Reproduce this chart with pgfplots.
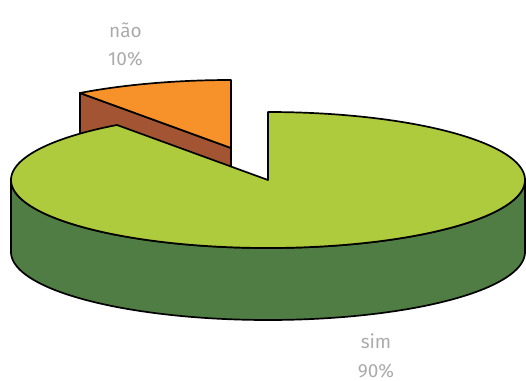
\documentclass[border=0pt]{standalone}
\usepackage{fontspec}
\setmainfont{Fira Sans}
\usepackage{pgfplots}
\pgfplotsset{compat=1.18}
\definecolor{cOrange}{HTML}{F7922A}
\definecolor{cBrown}{HTML}{A35433}
\definecolor{cGreen}{HTML}{ADCB3C}
\definecolor{cDark}{HTML}{4F7D43}
\definecolor{cLbl}{HTML}{ABABAB}
% data (percent)
\def\valSim{90}
\def\valNao{10}
\begin{document}
\begin{tikzpicture}
\pgfmathsetmacro{\aS}{90}
\pgfmathsetmacro{\aE}{90+360*\valNao/100}
\pgfmathsetmacro{\aEnd}{450}
\def\cx{268}\def\cy{180}\def\rx{257}\def\ry{68}\def\dep{72}
\def\ox{-37}\def\oy{-32}
\begin{axis}[
  width=526pt, height=380pt, scale only axis,
  xmin=0, xmax=526, ymin=0, ymax=380, y dir=reverse,
  hide axis, clip=false,
]
\addplot[draw=none, forget plot] coordinates {(0,0) (526,380)};
% front side of big slice
\addplot[draw=black, line width=1.7pt, line join=round, fill=cDark, domain=0:2, samples=401, variable=\t]
  ({\cx+\rx*cos((\t<=1) ? (180+180*\t) : (540-180*\t))},
   {\cy-\ry*sin((\t<=1) ? (180+180*\t) : (540-180*\t)) + ((\t>1) ? \dep : 0)}) -- cycle;
% cut face of exploded slice
\addplot[draw=black, line width=1.7pt, line join=round, fill=cBrown] coordinates {
  ({\cx+\ox},{\cy+\oy})
  ({\cx+\ox+\rx*cos(\aE)},{\cy+\oy-\ry*sin(\aE)})
  ({\cx+\ox+\rx*cos(\aE)},{\cy+\oy-\ry*sin(\aE)+\dep})
  ({\cx+\ox},{\cy+\oy+\dep})
} -- cycle;
% top of exploded slice
\addplot[draw=black, line width=1.7pt, line join=round, fill=cOrange, domain=\aS:\aE, samples=60]
  ({\cx+\ox+\rx*cos(x)},{\cy+\oy-\ry*sin(x)}) -- (axis cs:{\cx+\ox},{\cy+\oy}) -- cycle;
% top of big slice
\addplot[draw=black, line width=1.7pt, line join=round, fill=cGreen, domain=\aE:\aEnd, samples=400]
  ({\cx+\rx*cos(x)},{\cy-\ry*sin(x)}) -- (axis cs:\cx,\cy) -- cycle;
% labels
\node[anchor=base, text=cLbl, font=\fontsize{19}{22}\selectfont] at (axis cs:125.5,37) {não};
\node[anchor=base, text=cLbl, font=\fontsize{19}{22}\selectfont] at (axis cs:125.5,65) {10\%};
\node[anchor=base, text=cLbl, font=\fontsize{19}{22}\selectfont] at (axis cs:376,348) {sim};
\node[anchor=base, text=cLbl, font=\fontsize{19}{22}\selectfont] at (axis cs:376,377) {90\%};
\end{axis}
\end{tikzpicture}
\end{document}
